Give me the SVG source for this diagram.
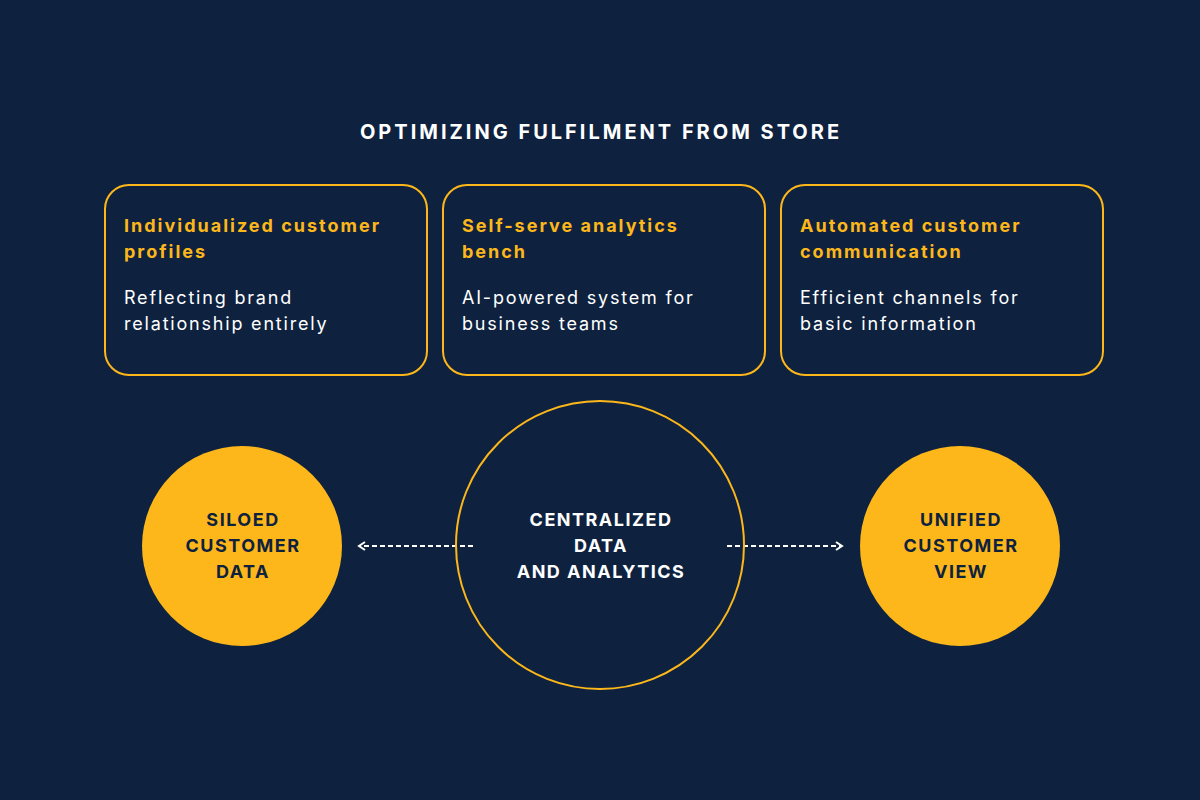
<svg xmlns="http://www.w3.org/2000/svg" width="1200" height="800" viewBox="0 0 1200 800">
<defs>
<style>
.bg{fill:#0E223F}
.box{fill:#0E223F;stroke:#FDB71A;stroke-width:2}
.h{font-family:Inter,"Liberation Sans",sans-serif;font-weight:700;font-size:18px;fill:#FDB71A;letter-spacing:2px}
.b{font-family:Inter,"Liberation Sans",sans-serif;font-size:18px;fill:#FFFFFF;letter-spacing:1.8px}
.title{font-family:Inter,"Liberation Sans",sans-serif;font-weight:700;font-size:20px;fill:#FFFFFF;letter-spacing:3px}
.ct{font-family:Inter,"Liberation Sans",sans-serif;font-weight:700;font-size:18px;letter-spacing:1.5px;text-anchor:middle}
.conn{stroke:#FFFFFF;stroke-width:2;stroke-dasharray:5 3;fill:none}
</style>
<marker id="arr" viewBox="0 0 10 10" refX="8" refY="5" markerWidth="10" markerHeight="10" markerUnits="userSpaceOnUse" orient="auto">
<path d="M2,1 L8,5 L2,9" fill="none" stroke="#FFFFFF" stroke-width="2"/>
</marker>
</defs>
<rect class="bg" x="0" y="0" width="1200" height="800"/>
<text class="title" x="601" y="139" text-anchor="middle">OPTIMIZING FULFILMENT FROM STORE</text>
<g id="box1">
<rect class="box" x="105" y="185" width="322" height="190" rx="24"/>
<text class="h" x="124" y="232">Individualized customer</text>
<text class="h" x="124" y="258">profiles</text>
<text class="b" x="124" y="304">Reflecting brand</text>
<text class="b" x="124" y="330">relationship entirely</text>
</g>
<g id="box2">
<rect class="box" x="443" y="185" width="322" height="190" rx="24"/>
<text class="h" x="462" y="232">Self-serve analytics</text>
<text class="h" x="462" y="258">bench</text>
<text class="b" x="462" y="304">AI-powered system for</text>
<text class="b" x="462" y="330">business teams</text>
</g>
<g id="box3">
<rect class="box" x="781" y="185" width="322" height="190" rx="24"/>
<text class="h" x="800" y="232">Automated customer</text>
<text class="h" x="800" y="258">communication</text>
<text class="b" x="800" y="304">Efficient channels for</text>
<text class="b" x="800" y="330">basic information</text>
</g>
<g id="connectors">
<line class="conn" x1="473" y1="546" x2="359" y2="546" marker-end="url(#arr)"/>
<line class="conn" x1="727" y1="546" x2="842" y2="546" marker-end="url(#arr)"/>
</g>
<g id="center">
<circle cx="600" cy="545" r="144" fill="none" stroke="#FDB71A" stroke-width="2"/>
<text class="ct" x="601" y="526" fill="#FFFFFF">CENTRALIZED</text>
<text class="ct" x="601" y="552" fill="#FFFFFF">DATA</text>
<text class="ct" x="601" y="578" fill="#FFFFFF">AND ANALYTICS</text>
</g>
<g id="siloed">
<circle cx="242" cy="546" r="100" fill="#FDB71A"/>
<text class="ct" x="243" y="526" fill="#0E223F">SILOED</text>
<text class="ct" x="243" y="552" fill="#0E223F">CUSTOMER</text>
<text class="ct" x="243" y="578" fill="#0E223F">DATA</text>
</g>
<g id="unified">
<circle cx="960" cy="546" r="100" fill="#FDB71A"/>
<text class="ct" x="961" y="526" fill="#0E223F">UNIFIED</text>
<text class="ct" x="961" y="552" fill="#0E223F">CUSTOMER</text>
<text class="ct" x="961" y="578" fill="#0E223F">VIEW</text>
</g>
</svg>
